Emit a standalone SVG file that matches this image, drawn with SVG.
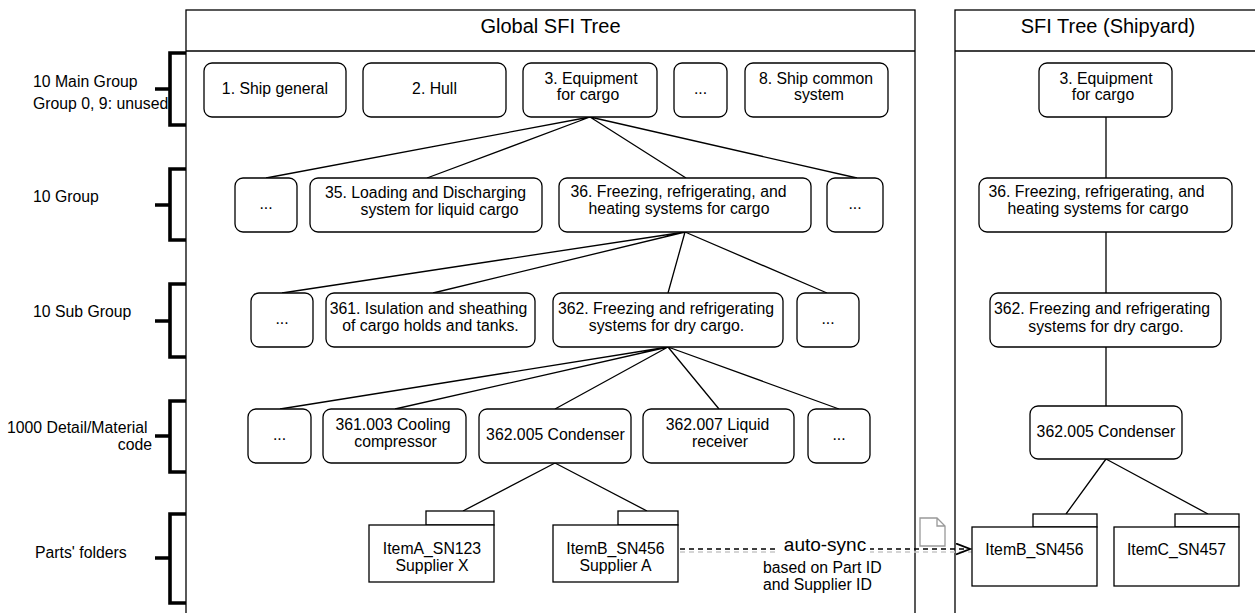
<svg xmlns="http://www.w3.org/2000/svg" width="1255" height="613" viewBox="0 0 1255 613">
<style>
text{font-family:"Liberation Sans",Arial,sans-serif;font-size:15.8px;fill:#000}
.c{text-anchor:middle}
.t{font-size:20px}
.box{fill:#fff;stroke:#000;stroke-width:1.3}
.pan{fill:#fff;stroke:#000;stroke-width:1.3}
.br{fill:none;stroke:#000;stroke-width:3.6}
.ln{fill:none;stroke:#000;stroke-width:1.3}
.fold{fill:#fff;stroke:#000;stroke-width:1.3}
</style>
<defs>
<marker id="open" markerWidth="16" markerHeight="16" refX="14" refY="6" orient="auto" markerUnits="userSpaceOnUse">
<path d="M0,0.5 L14,6 L0,11.5" fill="none" stroke="#000" stroke-width="1.8"/>
</marker>
</defs>

<g id="panel-global">
<rect class="pan" x="186" y="10" width="729" height="620"/>
<line class="ln" x1="186" y1="51" x2="915" y2="51"/>
<text class="c t" x="550.5" y="33">Global SFI Tree</text>
</g>
<g id="panel-shipyard">
<rect class="pan" x="955" y="10" width="320" height="620"/>
<line class="ln" x1="955" y1="51" x2="1275" y2="51"/>
<text class="c t" x="1108" y="33">SFI Tree (Shipyard)</text>
</g>

<g id="levels">
<path class="br" d="M186,53 H170 V125 H186 M155,89 H170"/>
<path class="br" d="M186,169 H170 V240 H186 M155,205 H170"/>
<path class="br" d="M186,284 H170 V357 H186 M155,321 H170"/>
<path class="br" d="M186,401 H170 V472 H186 M155,436 H170"/>
<path class="br" d="M186,514 H170 V603 H186 M155,558 H170"/>
<text x="33" y="87">10 Main Group</text>
<text x="33" y="108.5">Group 0, 9: unused</text>
<text x="33" y="202">10 Group</text>
<text x="33" y="317">10 Sub Group</text>
<text x="7" y="433">1000 Detail/Material</text>
<text x="152" y="450" text-anchor="end">code</text>
<text x="35" y="558">Parts' folders</text>
</g>

<g id="connectors">
<path class="ln" d="M590,117 L266,178 M590,117 L427,178 M590,117 L686,178 M590,117 L857,178"/>
<path class="ln" d="M685,232 L282,293 M685,232 L433,293 M685,232 L668,293 M685,232 L827,293"/>
<path class="ln" d="M668,347 L280,409 M668,347 L395,409 M668,347 L555,409 M668,347 L719,409 M668,347 L839,409"/>
<path class="ln" d="M555,463 L463,511 M555,463 L647,511"/>
<path class="ln" d="M1106,117 V178 M1106,232 V293 M1106,347 V406 M1106,459 L1066,514 M1106,459 L1208,514"/>
<line x1="680" y1="552" x2="972" y2="552" stroke="#c8c8c8" stroke-width="1.3" stroke-dasharray="5,4"/>
<line x1="680" y1="549" x2="970" y2="549" stroke="#000" stroke-width="1.4" stroke-dasharray="5,4" marker-end="url(#open)"/>
<rect x="779" y="535" width="91" height="22" fill="#fff"/>
<text x="825" y="551" class="c" style="font-size:19px">auto-sync</text>
<text x="763" y="573">based on Part ID</text>
<text x="763" y="590">and Supplier ID</text>
<path d="M920,518 H937 L945,526 V546 H920 Z M937,518 V526 H945" fill="#fff" stroke="#999" stroke-width="1.3"/>
</g>

<g id="g-1"><rect class="box" x="204" y="63" width="142" height="54" rx="8"/><text class="c" x="275" y="94">1. Ship general</text></g>
<g id="g-2"><rect class="box" x="363" y="63" width="143" height="54" rx="8"/><text class="c" x="434.5" y="94">2. Hull</text></g>
<g id="g-3"><rect class="box" x="523" y="63" width="134" height="54" rx="8"/><text class="c" x="591" y="83.5">3. Equipment</text><text class="c" x="588" y="100">for cargo</text></g>
<g id="g-dots1"><rect class="box" x="674" y="63" width="53" height="54" rx="8"/><text class="c" x="700.5" y="94">...</text></g>
<g id="g-8"><rect class="box" x="745" y="63" width="143" height="54" rx="8"/><text class="c" x="816" y="83.5">8. Ship common</text><text class="c" x="819" y="100">system</text></g>

<g id="g-dots2a"><rect class="box" x="235" y="178" width="62" height="54" rx="8"/><text class="c" x="266" y="209">...</text></g>
<g id="g-35"><rect class="box" x="310" y="178" width="232" height="54" rx="8"/><text class="c" x="425.5" y="197.5">35. Loading and Discharging</text><text class="c" x="439.5" y="215">system for liquid cargo</text></g>
<g id="g-36"><rect class="box" x="559" y="178" width="252" height="54" rx="8"/><text class="c" x="678.5" y="197">36. Freezing, refrigerating, and</text><text class="c" x="679" y="214">heating systems for cargo</text></g>
<g id="g-dots2b"><rect class="box" x="827" y="178" width="56" height="54" rx="8"/><text class="c" x="855" y="209">...</text></g>

<g id="g-dots3a"><rect class="box" x="251" y="293" width="62" height="54" rx="8"/><text class="c" x="282" y="324">...</text></g>
<g id="g-361"><rect class="box" x="326" y="293" width="209" height="54" rx="8"/><text class="c" x="428.5" y="313.5">361. Isulation and sheathing</text><text class="c" x="430.5" y="331">of cargo holds and tanks.</text></g>
<g id="g-362"><rect class="box" x="553" y="293" width="230" height="54" rx="8"/><text class="c" x="666" y="313.5">362. Freezing and refrigerating</text><text class="c" x="666.5" y="331">systems for dry cargo.</text></g>
<g id="g-dots3b"><rect class="box" x="797" y="293" width="62" height="54" rx="8"/><text class="c" x="828" y="324">...</text></g>

<g id="g-dots4a"><rect class="box" x="248" y="409" width="63" height="54" rx="8"/><text class="c" x="279.5" y="440">...</text></g>
<g id="g-361003"><rect class="box" x="323" y="409" width="143" height="54" rx="8"/><text class="c" x="393" y="429.5">361.003 Cooling</text><text class="c" x="395.5" y="447">compressor</text></g>
<g id="g-362005"><rect class="box" x="479" y="409" width="152" height="54" rx="8"/><text class="c" x="555.5" y="440">362.005 Condenser</text></g>
<g id="g-362007"><rect class="box" x="643" y="409" width="151" height="54" rx="8"/><text class="c" x="717.5" y="429.5">362.007 Liquid</text><text class="c" x="720" y="447">receiver</text></g>
<g id="g-dots4b"><rect class="box" x="808" y="409" width="62" height="54" rx="8"/><text class="c" x="839" y="440">...</text></g>

<g id="g-itemA"><rect class="fold" x="426" y="511" width="68" height="14"/><rect class="fold" x="369" y="525" width="125" height="57"/><text class="c" x="432" y="553.5">ItemA_SN123</text><text class="c" x="432" y="571">Supplier X</text></g>
<g id="g-itemB"><rect class="fold" x="618" y="511" width="60" height="14"/><rect class="fold" x="553" y="525" width="125" height="57"/><text class="c" x="615.5" y="553.5">ItemB_SN456</text><text class="c" x="615.5" y="571">Supplier A</text></g>

<g id="s-3"><rect class="box" x="1039" y="63" width="133" height="54" rx="8"/><text class="c" x="1106" y="83.5">3. Equipment</text><text class="c" x="1103" y="100">for cargo</text></g>
<g id="s-36"><rect class="box" x="979" y="178" width="253" height="54" rx="8"/><text class="c" x="1096.5" y="197">36. Freezing, refrigerating, and</text><text class="c" x="1098" y="214">heating systems for cargo</text></g>
<g id="s-362"><rect class="box" x="990" y="293" width="231" height="54" rx="8"/><text class="c" x="1102" y="314">362. Freezing and refrigerating</text><text class="c" x="1106" y="331.5">systems for dry cargo.</text></g>
<g id="s-362005"><rect class="box" x="1030" y="406" width="152" height="53" rx="8"/><text class="c" x="1106" y="436.5">362.005 Condenser</text></g>
<g id="s-itemB"><rect class="fold" x="1033" y="514" width="64" height="13"/><rect class="fold" x="972" y="527" width="125" height="59"/><text class="c" x="1034.5" y="555">ItemB_SN456</text></g>
<g id="s-itemC"><rect class="fold" x="1175" y="514" width="64" height="13"/><rect class="fold" x="1114" y="527" width="125" height="59"/><text class="c" x="1176.5" y="555">ItemC_SN457</text></g>
</svg>
